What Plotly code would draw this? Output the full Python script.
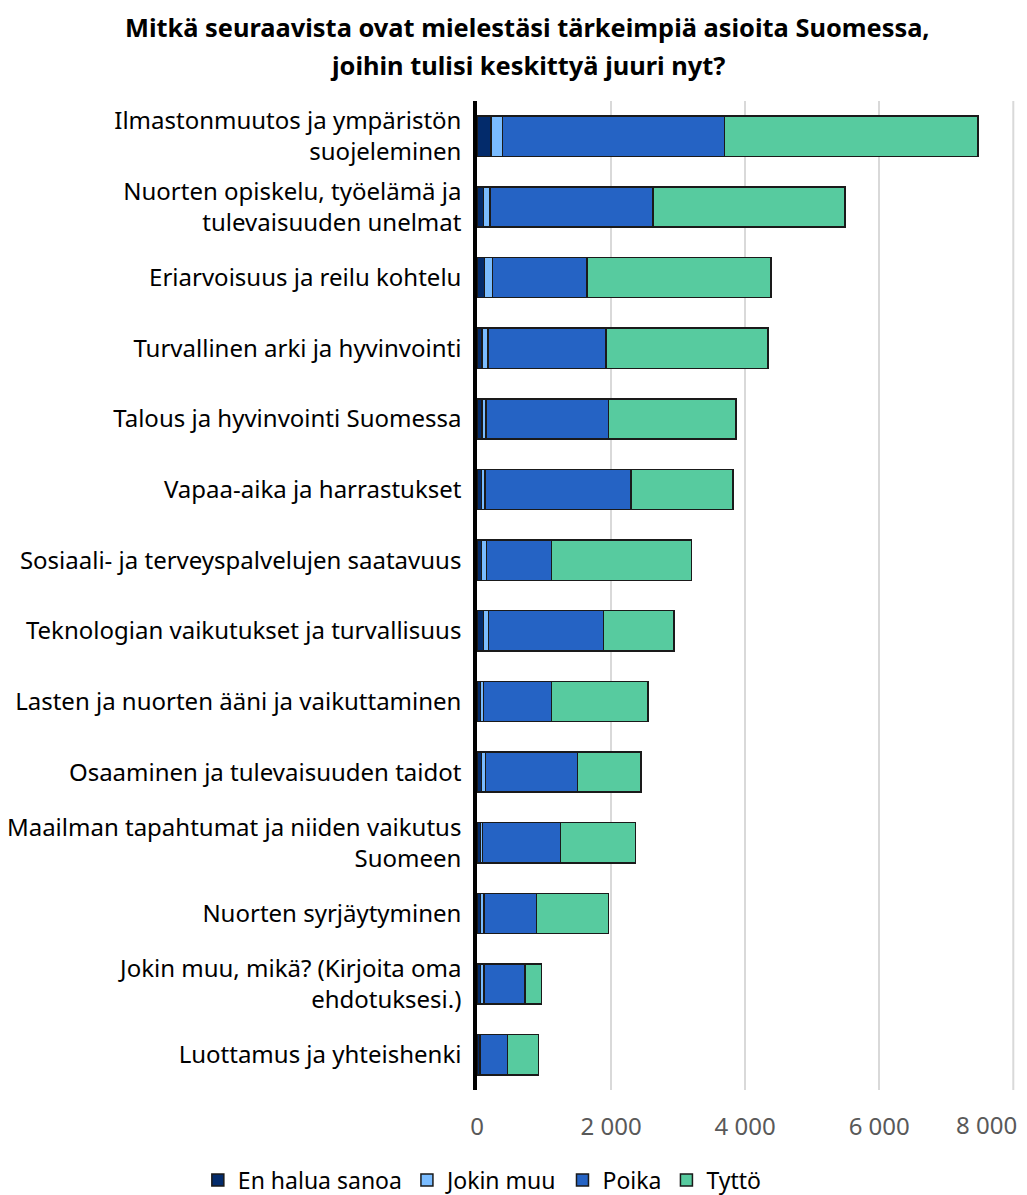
import plotly.graph_objects as go

categories = [
    "Ilmastonmuutos ja ympäristön<br>suojeleminen",
    "Nuorten opiskelu, työelämä ja<br>tulevaisuuden unelmat",
    "Eriarvoisuus ja reilu kohtelu",
    "Turvallinen arki ja hyvinvointi",
    "Talous ja hyvinvointi Suomessa",
    "Vapaa-aika ja harrastukset",
    "Sosiaali- ja terveyspalvelujen saatavuus",
    "Teknologian vaikutukset ja turvallisuus",
    "Lasten ja nuorten ääni ja vaikuttaminen",
    "Osaaminen ja tulevaisuuden taidot",
    "Maailman tapahtumat ja niiden vaikutus<br>Suomeen",
    "Nuorten syrjäytyminen",
    "Jokin muu, mikä? (Kirjoita oma<br>ehdotuksesi.)",
    "Luottamus ja yhteishenki",
]

en_halua_sanoa = [210, 95, 115, 75, 75, 65, 70, 95, 55, 70, 55, 50, 50, 40]
jokin_muu = [168, 99, 116, 89, 59, 54, 69, 74, 40, 59, 30, 54, 54, 10]
poika = [3312, 2431, 1407, 1761, 1831, 2179, 970, 1717, 1014, 1368, 1164, 782, 612, 408]
tytto = [3780, 2861, 2745, 2418, 1896, 1518, 2090, 1054, 1443, 946, 1119, 1079, 249, 457]

series_names = ["En halua sanoa", "Jokin muu", "Poika", "Tyttö"]
series_values = [en_halua_sanoa, jokin_muu, poika, tytto]
series_colors = ["#032B6B", "#7ABCFF", "#2563C4", "#57CB9F"]

x_tick_values = [0, 2000, 4000, 6000, 8000]
x_tick_labels = ["0", "2 000", "4 000", "6 000", "8 000"]

title_lines = [
    "Mitkä seuraavista ovat mielestäsi tärkeimpiä asioita Suomessa,",
    "joihin tulisi keskittyä juuri nyt?",
]

FONT = "Noto Sans"
OFF = 8  # page body margin
W, H = 1027 - OFF, 1195 - OFF
X_MAX = 8100
# plot area in page pixels (0 at 477, 8000 at 1013)
PL, PT, PB = 477, 101, 1090
PR = PL + (1013 - PL) * X_MAX / 8000

fig = go.Figure()
for name, vals, col in zip(series_names, series_values, series_colors):
    fig.add_trace(go.Bar(
        y=categories, x=vals, name=name, orientation="h",
        marker=dict(color=col, line=dict(color="#1A1A1A", width=1.5)),
    ))

fig.update_layout(
    width=W, height=H,
    barmode="stack", bargap=0.43,
    plot_bgcolor="white", paper_bgcolor="white",
    margin=dict(l=PL - OFF, r=W - (PR - OFF), t=PT - OFF, b=H - (PB - OFF), autoexpand=False),
    font=dict(family=FONT, size=24, color="#000000"),
    showlegend=True,
    legend=dict(
        orientation="h", xref="paper", yref="paper",
        x=(198 - PL) / (PR - PL), y=-(1180 - PB) / (PB - PT),
        xanchor="left", yanchor="middle",
        font=dict(family=FONT, size=23, color="#000000"),
        traceorder="normal", itemclick=False, itemdoubleclick=False,
    ),
    xaxis=dict(
        range=[0, X_MAX], tickvals=x_tick_values[:-1], ticktext=x_tick_labels[:-1],
        showgrid=True, gridcolor="#D9D9D9", gridwidth=2,
        zeroline=False, showline=False, ticks="", automargin=False,
        tickfont=dict(family=FONT, size=24, color="#595959"),
        ticklabelstandoff=20, fixedrange=True,
    ),
    yaxis=dict(
        autorange="reversed", showline=True, linecolor="#000000", linewidth=3.5,
        ticks="", ticklabelstandoff=7, showgrid=False, automargin=False,
        tickfont=dict(family=FONT, size=24, color="#000000"),
        fixedrange=True,
    ),
)

# last gridline + its label (label kept inside the page, as in the original)
fig.add_vline(x=x_tick_values[-1], line=dict(color="#D9D9D9", width=2), layer="below")
fig.add_annotation(
    text=x_tick_labels[-1], xref="x", yref="paper", x=x_tick_values[-1],
    xanchor="right", xshift=6, y=-(1124 - PB) / (PB - PT), yanchor="middle",
    showarrow=False, font=dict(family=FONT, size=24, color="#595959"),
)

for i, line in enumerate(title_lines):
    fig.add_annotation(
        text="<b>" + line + "</b>", xref="paper", yref="paper",
        x=(527 - PL) / (PR - PL), xanchor="center",
        y=1 + (PT - (27 + 38 * i)) / (PB - PT), yanchor="middle",
        showarrow=False, font=dict(family=FONT, size=25.4, color="#000000"),
    )

fig.write_html("out.html")
